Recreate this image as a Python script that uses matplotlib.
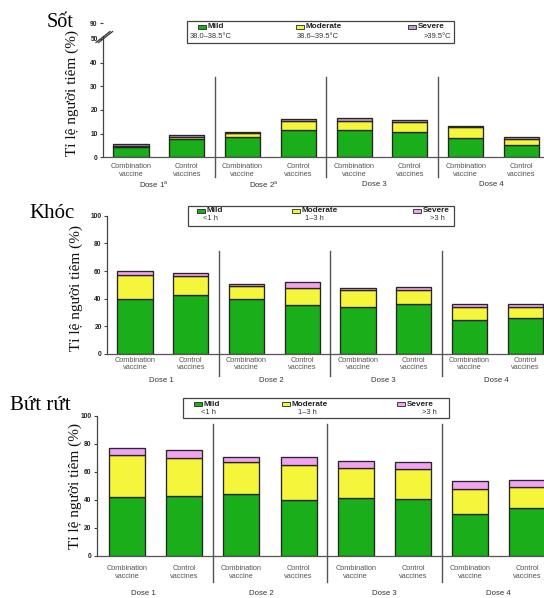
import matplotlib
matplotlib.use('Agg')
import matplotlib.pyplot as plt
from matplotlib.patches import Rectangle
from matplotlib.lines import Line2D
from matplotlib.transforms import blended_transform_factory

# Data (percent of vaccinees)
categories = ['Combination\nvaccine', 'Control\nvaccines'] * 4
dose_labels = ['Dose 1', 'Dose 2', 'Dose 3', 'Dose 4']
fever_dose_labels = ['Dose 1$^\\mathregular{a}$', 'Dose 2$^\\mathregular{a}$', 'Dose 3', 'Dose 4']

fever_mild     = [4.4, 7.6, 8.5, 11.5, 11.5, 10.6, 8.2, 5.2]
fever_moderate = [0.4, 1.1, 1.9, 4.0, 4.0, 4.5, 4.5, 2.4]
fever_severe   = [0.8, 0.6, 0.4, 0.7, 1.0, 0.7, 0.5, 1.1]

cry_mild     = [39.8, 42.4, 39.8, 35.7, 34.0, 36.1, 24.6, 26.0]
cry_moderate = [17.5, 13.7, 9.4, 12.3, 12.3, 10.2, 9.1, 8.2]
cry_severe   = [2.7, 2.7, 1.2, 4.3, 1.2, 1.9, 2.7, 2.2]

irr_mild     = [42.0, 42.5, 43.9, 39.9, 41.5, 40.6, 29.8, 34.4]
irr_moderate = [30.1, 27.2, 23.2, 25.3, 21.0, 21.7, 18.2, 14.8]
irr_severe   = [4.7, 5.7, 3.8, 5.2, 5.3, 4.8, 5.7, 4.7]

fever_legend_sub = ['38.0\u201338.5\u00b0C', '38.6\u201339.5\u00b0C', '>39.5\u00b0C']
time_legend_sub = ['<1 h', '1\u20133 h', '>3 h']
legend_names = ['Mild', 'Moderate', 'Severe']

W, H = 544, 598
GREEN = '#1aae1a'
YELLOW = '#f5f53c'
PINK = '#f2a2f2'
LAVENDER = '#bb98cc'
EDGE = '#262626'
SANS = ['Liberation Sans', 'DejaVu Sans']
SERIF = ['Liberation Serif', 'DejaVu Serif']


def fx(x):
    return x / W


def fy(y):
    return 1 - y / H


def draw_panel(fig, p, mild, moderate, severe, sev_color):
    left, top, right, bottom = p['box']
    ax = fig.add_axes([fx(left), fy(bottom), fx(right - left), (bottom - top) / H])
    x = list(range(len(mild)))
    base2 = [a + b for a, b in zip(mild, moderate)]
    kw = dict(width=0.63, edgecolor=EDGE, linewidth=0.95)
    ax.bar(x, mild, color=GREEN, **kw)
    ax.bar(x, moderate, bottom=mild, color=YELLOW, **kw)
    ax.bar(x, severe, bottom=base2, color=sev_color, **kw)
    ax.set_xlim(*p['xlim'])
    ax.set_ylim(*p['ylim'])
    ax.set_xticks([])
    ax.set_yticks(p['yticks'])
    ax.set_yticklabels(p['yticklabels'], fontsize=4.8, fontweight='bold',
                       family=SANS, color='#222222')
    ax.tick_params(axis='y', length=2.5, width=0.8, pad=1.5, color='#444444')
    for s in ['top', 'right']:
        ax.spines[s].set_visible(False)
    ax.spines['left'].set_color('#444444')
    ax.spines['bottom'].set_color('#555555')
    ax.spines['left'].set_linewidth(0.9)
    ax.spines['bottom'].set_linewidth(0.9)
    if 'spine_top' in p:
        ax.spines['left'].set_bounds(0, p['spine_top'])
    ax.patch.set_alpha(0)

    tr = blended_transform_factory(ax.transData, fig.transFigure)
    for xi, lab in zip(x, categories):
        ax.text(xi, fy(p['cat_y']), lab, transform=tr, ha='center', va='center',
                fontsize=5.3, family=SANS, color='#555555', linespacing=1.05)
    for xi, lab in zip(p['dose_x'], p['doses']):
        ax.text(xi, fy(p['dose_y']), lab, transform=tr, ha='center', va='center',
                fontsize=5.6, family=SANS, color='#333333')
    for xs in [1.5, 3.5, 5.5]:
        ax.plot([xs, xs], [fy(p['sep'][0]), fy(p['sep'][1])], transform=tr,
                color='#555555', lw=1.0, clip_on=False)
    return ax


def draw_legend(fig, box, rows, items, sub, sev_color):
    l, t, r, b = box
    fig.add_artist(Rectangle((fx(l), fy(b)), fx(r - l), (b - t) / H,
                             transform=fig.transFigure, facecolor='white',
                             edgecolor='#444444', lw=0.9))
    colors = [GREEN, YELLOW, sev_color]
    for (px, sx, sha), name, s, c in zip(items, legend_names, sub, colors):
        fig.add_artist(Rectangle((fx(px), fy(rows[0] + 1.8)), fx(8), 3.6 / H,
                                 transform=fig.transFigure, facecolor=c,
                                 edgecolor=EDGE, lw=0.6))
        fig.text(fx(px + 9.5), fy(rows[0]), name, ha='left', va='center',
                 fontsize=5.9, fontweight='bold', family=SANS, color='#222222')
        fig.text(fx(sx), fy(rows[1]), s, ha=sha, va='center',
                 fontsize=5.4, family=SANS, color='#333333')


fig = plt.figure(figsize=(W / 100, H / 100), dpi=100)

fever_panel = dict(box=(103.3, 157.3 - 57 * 2.37, 544, 157.3), xlim=(-0.497, 7.405),
                   ylim=(0, 57), yticks=[0, 10, 20, 30, 40, 50, 56.5],
                   yticklabels=['0', '10', '20', '30', '40', '50', '90'],
                   spine_top=51.2, cat_y=170.5, dose_y=185, sep=(77, 177),
                   dose_x=[0.41, 2.38, 4.37, 6.46], doses=fever_dose_labels)
cry_panel = dict(box=(107.3, 215.7, 544, 354), xlim=(-0.497, 7.336),
                 ylim=(0, 100), yticks=[0, 20, 40, 60, 80, 100],
                 yticklabels=['0', '20', '40', '60', '80', '100'],
                 cat_y=364.3, dose_y=381, sep=(251, 376),
                 dose_x=[0.47, 2.45, 4.45, 6.48], doses=dose_labels)
irr_panel = dict(box=(97, 416, 544, 555.7), xlim=(-0.524, 7.29),
                 ylim=(0, 100), yticks=[0, 20, 40, 60, 80, 100],
                 yticklabels=['0', '20', '40', '60', '80', '100'],
                 cat_y=572.5, dose_y=593.3, sep=(424, 582),
                 dose_x=[0.29, 2.35, 4.49, 6.5], doses=dose_labels)

draw_panel(fig, fever_panel, fever_mild, fever_moderate, fever_severe, LAVENDER)
draw_panel(fig, cry_panel, cry_mild, cry_moderate, cry_severe, PINK)
draw_panel(fig, irr_panel, irr_mild, irr_moderate, irr_severe, PINK)

# broken axis marks on the fever panel
for dx in (0, 2.6):
    fig.add_artist(Line2D([fx(96 + dx), fx(110 + dx)], [fy(42.5), fy(31.5)],
                          transform=fig.transFigure, color='#333333', lw=0.9))

draw_legend(fig, (187, 21, 454, 43), (26.7, 36.7),
            [(198, 190, 'left'), (296, 297, 'left'), (408, 451, 'right')],
            fever_legend_sub, LAVENDER)
draw_legend(fig, (188, 205.7, 454, 225.7), (211, 218.5),
            [(197, 203, 'left'), (292, 305, 'left'), (413, 445, 'right')],
            time_legend_sub, PINK)
draw_legend(fig, (183, 398, 449, 418), (404, 412.5),
            [(194, 201, 'left'), (282, 298, 'left'), (397, 437, 'right')],
            time_legend_sub, PINK)

ylab = 'T\u1ec9 l\u1ec7 ng\u01b0\u1eddi ti\u00eam (%)'
for (x, y) in [(72.7, 93), (76, 288), (75, 486)]:
    fig.text(fx(x), fy(y), ylab, rotation=90, ha='center', va='center',
             fontsize=11, family=SERIF, color='#111111')

fig.text(fx(47), fy(27), 'S\u1ed1t', ha='left', va='baseline', fontsize=14.5,
         family=SERIF, color='black')
fig.text(fx(29), fy(218), 'Kh\u00f3c', ha='left', va='baseline', fontsize=15,
         family=SERIF, color='black')
fig.text(fx(10), fy(410), 'B\u1ee9t r\u1ee9t', ha='left', va='baseline', fontsize=15,
         family=SERIF, color='black')

fig.savefig('out.png', dpi=100)
